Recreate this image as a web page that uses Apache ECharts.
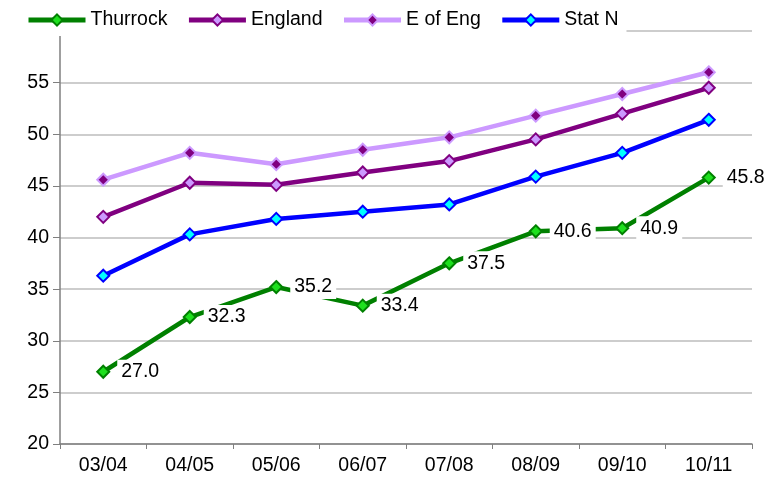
<!DOCTYPE html>
<html>
<head>
<meta charset="utf-8">
<script src="https://cdn.jsdelivr.net/npm/echarts@6/dist/echarts.min.js"></script>
<style>
  html, body { margin: 0; padding: 0; background: #fff; }
  #chart { width: 767px; height: 480px; }
</style>
</head>
<body>
<div id="chart"></div>
<script>
// Academic years along the x axis
const years = ['03/04', '04/05', '05/06', '06/07', '07/08', '08/09', '09/10', '10/11'];

// Series values (%)
const thurrock = [27.0, 32.3, 35.2, 33.4, 37.5, 40.6, 40.9, 45.8];
const england  = [42.0, 45.3, 45.1, 46.3, 47.4, 49.5, 52.0, 54.5];
const eastEng  = [45.6, 48.2, 47.1, 48.5, 49.7, 51.8, 53.9, 56.0];
const statN    = [36.3, 40.3, 41.8, 42.5, 43.2, 45.9, 48.2, 51.4];

// Value axis ticks
const yMin = 20, yMax = 60, yStep = 5;

const FONT = 'Liberation Sans, Arial, sans-serif';

function lineSeries(name, data, lineColor, fill, border, extra) {
  return Object.assign({
    name: name,
    type: 'line',
    data: data,
    symbol: 'diamond',
    symbolSize: 12,
    showAllSymbol: true,
    lineStyle: { color: lineColor, width: 4.5 },
    itemStyle: { color: fill, borderColor: border, borderWidth: 2 },
    emphasis: { disabled: true },
    animation: false
  }, extra || {});
}

const chart = echarts.init(document.getElementById('chart'), null, { renderer: 'canvas' });
chart.setOption({
  backgroundColor: '#fff',
  textStyle: { fontFamily: FONT },
  legend: {
    left: 0,
    top: 4,
    padding: [6, 8, 6, 26],
    backgroundColor: '#fff',
    itemWidth: 57,
    itemHeight: 14,
    itemGap: 19,
    lineStyle: { width: 5 },
    textStyle: { color: '#000', fontSize: 19.5, fontFamily: FONT },
    data: ['Thurrock', 'England', 'E of Eng', 'Stat N']
  },
  grid: { left: 60, right: 15, top: 31, bottom: 36, containLabel: false },
  xAxis: {
    type: 'category',
    data: years,
    boundaryGap: true,
    axisLine: { lineStyle: { color: '#7f7f7f', width: 1.5 } },
    axisTick: { show: true, length: 5, lineStyle: { color: '#7f7f7f' } },
    axisLabel: { color: '#000', fontSize: 19.5, fontFamily: FONT, margin: 12 }
  },
  yAxis: {
    type: 'value',
    min: yMin,
    max: yMax,
    interval: yStep,
    axisLine: { show: true, lineStyle: { color: '#7f7f7f', width: 1.5 } },
    axisTick: { show: true, length: 7, lineStyle: { color: '#7f7f7f' } },
    axisLabel: { color: '#000', fontSize: 19.5, fontFamily: FONT, margin: 11, showMaxLabel: false },
    splitLine: { lineStyle: { color: '#bdbdbd', width: 1.5 } }
  },
  series: [
    lineSeries('Thurrock', thurrock, '#008000', '#1ee01e', '#008000', {
      z: 5,
      label: {
        show: true,
        position: 'right',
        distance: 7,
        color: '#000',
        fontSize: 19.5,
        fontFamily: FONT,
        backgroundColor: '#fff',
        padding: [2, 4, 2, 4],
        formatter: p => p.value.toFixed(1)
      }
    }),
    lineSeries('England', england, '#800080', '#cc99ff', '#800080'),
    lineSeries('E of Eng', eastEng, '#cc99ff', '#800080', '#cc99ff'),
    lineSeries('Stat N', statN, '#0000ff', '#00ffff', '#0000ff')
  ]
});
</script>
</body>
</html>
